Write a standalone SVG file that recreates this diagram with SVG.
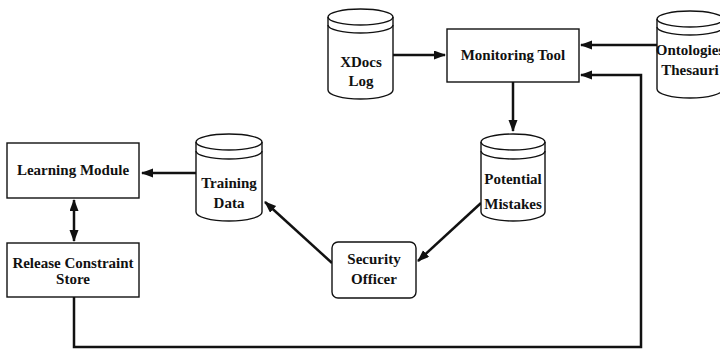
<svg xmlns="http://www.w3.org/2000/svg" width="720" height="349" viewBox="0 0 720 349">
<style>
.box{fill:#fff;stroke:#111;stroke-width:1.4}
.cyl{fill:#fff;stroke:#111;stroke-width:1.4}
.arc{fill:none;stroke:#111;stroke-width:1.4}
.t{font-family:"Liberation Serif","Times New Roman",serif;font-weight:bold;font-size:15px;fill:#111;text-anchor:middle}
.c{fill:none;stroke:#111;stroke-width:2.5}
</style>
<defs>
<marker id="ah" markerUnits="userSpaceOnUse" markerWidth="12" markerHeight="10" refX="11" refY="4.5" orient="auto-start-reverse">
<path d="M0,0 L12,4.5 L0,9 z" fill="#111"/>
</marker>
</defs>
<rect width="720" height="349" fill="#fff"/>

<g id="connectors">
<path class="c" d="M393,55 H445" marker-end="url(#ah)"/>
<path class="c" d="M657,45 H581" marker-end="url(#ah)"/>
<path class="c" d="M513,82 V131" marker-end="url(#ah)"/>
<path class="c" d="M481,203 L418,261" marker-end="url(#ah)"/>
<path class="c" d="M332,263 L265,202" marker-end="url(#ah)"/>
<path class="c" d="M196,173 H142" marker-end="url(#ah)"/>
<path class="c" d="M74,200 V241" marker-start="url(#ah)" marker-end="url(#ah)"/>
<path class="c" d="M74,297 V347 H641 V75 H581" marker-end="url(#ah)"/>
</g>

<g id="xdocs-log">
<path class="cyl" d="M328,17 V90 A32.5,9 0 0 0 393,90 V17 A32.5,8 0 0 0 328,17 Z"/>
<path class="arc" d="M328,17 A32.5,8 0 0 0 393,17"/>
<path class="arc" d="M328,25 A32.5,8 0 0 0 393,25"/>
<text class="t" x="361" y="67">XDocs</text>
<text class="t" x="361" y="86">Log</text>
</g>

<g id="monitoring-tool">
<rect class="box" x="447" y="29" width="132" height="53"/>
<text class="t" x="513" y="60">Monitoring Tool</text>
</g>

<g id="ontologies-thesauri">
<path class="cyl" d="M657,19 V89 A33,9 0 0 0 723,89 V19 A33,8 0 0 0 657,19 Z"/>
<path class="arc" d="M657,19 A33,8 0 0 0 723,19"/>
<path class="arc" d="M657,27 A33,8 0 0 0 723,27"/>
<text class="t" x="690" y="55">Ontologies</text>
<text class="t" x="690" y="75">Thesauri</text>
</g>

<g id="potential-mistakes">
<path class="cyl" d="M481,142 V212 A32,9 0 0 0 545,212 V142 A32,8 0 0 0 481,142 Z"/>
<path class="arc" d="M481,142 A32,8 0 0 0 545,142"/>
<path class="arc" d="M481,151 A32,8 0 0 0 545,151"/>
<text class="t" x="513" y="184">Potential</text>
<text class="t" x="513" y="209">Mistakes</text>
</g>

<g id="security-officer">
<rect class="box" x="332" y="242" width="84" height="56" rx="6"/>
<text class="t" x="374" y="264">Security</text>
<text class="t" x="374" y="284">Officer</text>
</g>

<g id="training-data">
<path class="cyl" d="M196,142 V212 A33,9 0 0 0 262,212 V142 A33,8 0 0 0 196,142 Z"/>
<path class="arc" d="M196,142 A33,8 0 0 0 262,142"/>
<path class="arc" d="M196,151 A33,8 0 0 0 262,151"/>
<text class="t" x="229" y="188">Training</text>
<text class="t" x="229" y="208">Data</text>
</g>

<g id="learning-module">
<rect class="box" x="7" y="143" width="132" height="55"/>
<text class="t" x="73" y="175">Learning Module</text>
</g>

<g id="release-constraint-store">
<rect class="box" x="7" y="243" width="132" height="54"/>
<text class="t" x="73" y="268">Release Constraint</text>
<text class="t" x="73" y="284">Store</text>
</g>
</svg>
